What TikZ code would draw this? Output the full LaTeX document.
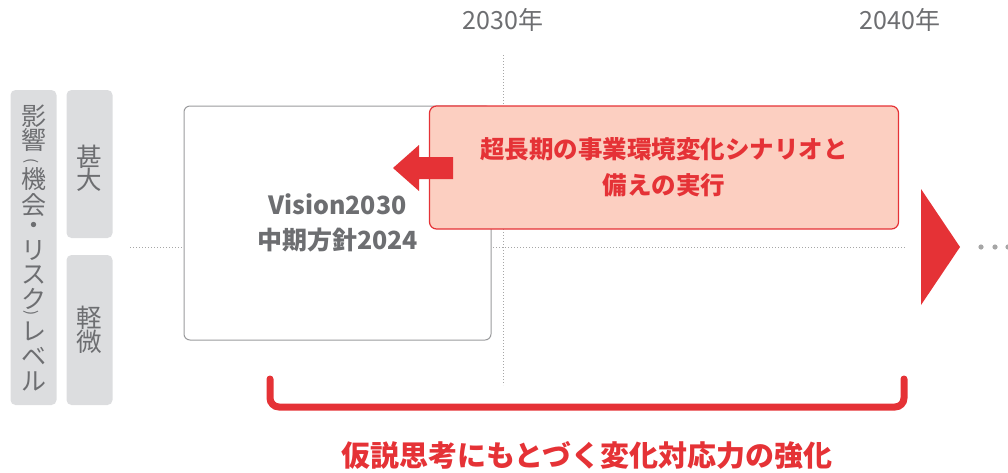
\documentclass[tikz,border=0pt]{standalone}
\usepackage{fontspec}
\setmainfont{Noto Sans CJK JP}
\definecolor{tgray}{HTML}{6D6E71}
\definecolor{lgray}{HTML}{DCDDDF}
\definecolor{bred}{HTML}{E53236}
\definecolor{salmon}{HTML}{FCCFC1}
\definecolor{bgray}{HTML}{9A9B9D}
\definecolor{dgray}{HTML}{A6A6A6}
\tikzset{
  graybox/.style={fill=lgray, rounded corners=5pt, inner sep=0pt},
  vchar/.style={text=tgray, inner sep=0pt, font=\fontsize{25}{25}\selectfont},
  vparen/.style={text=tgray, inner sep=0pt, rotate=-90, font=\fontsize{15}{15}\selectfont},
  dotline/.style={draw=dgray, line width=1pt, dash pattern=on 1pt off 2pt},
  yearlabel/.style={text=tgray, font=\fontsize{25}{28}\selectfont},
  redfill/.style={fill=bred, draw=none},
}
\begin{document}
\begin{tikzpicture}[x=1pt,y=-1pt]
\useasboundingbox (0,0) rectangle (1008,472);
% year labels
\node[yearlabel] (y30) at (503,20) {2030年};
\node[yearlabel] (y40) at (900,20) {2040年};
% dotted guide lines
\coordinate (hl) at (130,247);
\coordinate (hr) at (905,247);
\coordinate (vt) at (503,55);
\coordinate (vb) at (503,385);
\draw[dotline] (hl) -- (hr);
\draw[dotline] (vt) -- (vb);
% left label boxes
\node[graybox, minimum width=46pt, minimum height=315pt] (lvl) at (33.5,247.5) {};
\foreach \c/\yy [count=\i] in {影/116,響/140,機/179,会/205,・/228,リ/251,ス/275,ク/299,レ/331,ベ/356,ル/381}
  \node[vchar] (lv\i) at (34,\yy) {\c};
\node[vparen] (lpo) at (31,161) {(};
\node[vparen] (lpc) at (31,313) {)};
\node[graybox, minimum width=46pt, minimum height=148pt] (hi) at (89.5,164) {};
\node[vchar, font=\fontsize{25.5}{25.5}\selectfont] (hi1) at (89.5,157) {甚};
\node[vchar, font=\fontsize{25.5}{25.5}\selectfont] (hi2) at (89.5,180) {大};
\node[graybox, minimum width=46pt, minimum height=150pt] (lo) at (89.5,330) {};
\node[vchar, font=\fontsize{25.5}{25.5}\selectfont] (lo1) at (89.5,318) {軽};
\node[vchar, font=\fontsize{25.5}{25.5}\selectfont] (lo2) at (89.5,342) {微};
% main white box
\node[draw=bgray, line width=1pt, fill=white, rounded corners=6pt,
      minimum width=307pt, minimum height=234pt, inner sep=0pt,
      text=tgray, align=center, font=\bfseries\fontsize{25}{35}\selectfont] (vis) at (337.5,223) {Vision2030\\中期方針2024};
% red scenario box
\node[draw=bred, line width=1.2pt, fill=salmon, rounded corners=7pt,
      minimum width=469pt, minimum height=123pt, inner sep=0pt,
      text=bred, align=center, font=\bfseries\fontsize{24.5}{36}\selectfont] (scn) at (664,167.5) {超長期の事業環境変化シナリオと\\備えの実行};
% left block arrow
\fill[redfill] (393,168) -- (419,145) -- (419,157) -- (453,157) -- (453,179) -- (419,179) -- (419,191) -- cycle;
% right triangle
\fill[redfill] (921,189) -- (960,247) -- (921,305) -- cycle;
% dots
\foreach \xx in {981,995,1008} \fill[dgray] (\xx,247) circle (2.6pt);
% bracket
\coordinate (bl) at (270,379);
\coordinate (br) at (904,379);
\draw[bred, line width=7pt, rounded corners=9pt, line cap=round] (bl) -- (270,407) -- (904,407) -- (br);
\node[text=bred, font=\bfseries\fontsize{29}{32}\selectfont] (res) at (587,455) {仮説思考にもとづく変化対応力の強化};
\end{tikzpicture}
\end{document}
